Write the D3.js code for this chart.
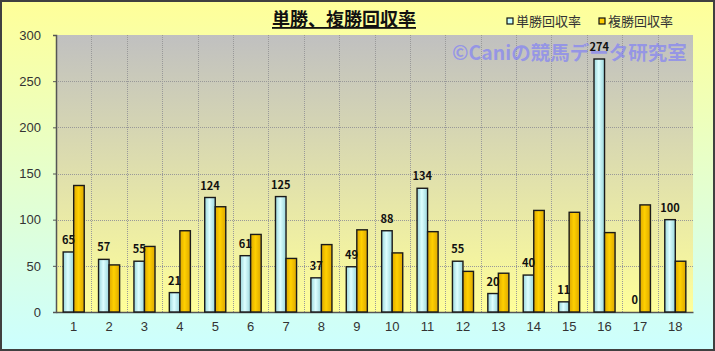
<!DOCTYPE html>
<html lang="ja">
<head>
<meta charset="UTF-8">
<title>単勝、複勝回収率</title>
<script src="https://d3js.org/d3.v7.min.js"></script>
<style>
  body { margin: 0; background: #fff; }
  svg text { font-family: "Noto Sans CJK JP", "Noto Sans", sans-serif; }
</style>
</head>
<body>
<div id="chart"></div>
<script>
// data
const categories = ["1","2","3","4","5","6","7","8","9","10","11","12","13","14","15","16","17","18"];
const tanshoValues = [65, 57, 55, 21, 124, 61, 125, 37, 49, 88, 134, 55, 20, 40, 11, 274, 0, 100];
const fukushoValues = [137, 51, 71, 88, 114, 84, 58, 73, 89, 64, 87, 44, 42, 110, 108, 86, 116, 55];
const seriesNames = ["単勝回収率", "複勝回収率"];
const yTicks = [0, 50, 100, 150, 200, 250, 300];

const width = 715, height = 351;
const plot = { left: 56, right: 693, top: 35, bottom: 312 };

const svg = d3.select("#chart").append("svg")
    .attr("width", width)
    .attr("height", height);

const defs = svg.append("defs");

// background gradients
const bg = defs.append("linearGradient").attr("id", "bg").attr("x1", 0).attr("y1", 0).attr("x2", 0).attr("y2", 1);
bg.append("stop").attr("offset", "0%").attr("stop-color", "#FFFF99");
bg.append("stop").attr("offset", "100%").attr("stop-color", "#CCFFFF");

const pg = defs.append("linearGradient").attr("id", "plotbg").attr("x1", 0).attr("y1", 0).attr("x2", 0).attr("y2", 1);
pg.append("stop").attr("offset", "0%").attr("stop-color", "#C0C0C0");
pg.append("stop").attr("offset", "100%").attr("stop-color", "#FFFF99");

// bar shading (horizontal)
function barGrad(id, edge, mid) {
  const g = defs.append("linearGradient").attr("id", id).attr("x1", 0).attr("y1", 0).attr("x2", 1).attr("y2", 0);
  g.append("stop").attr("offset", "0%").attr("stop-color", edge);
  g.append("stop").attr("offset", "45%").attr("stop-color", mid);
  g.append("stop").attr("offset", "100%").attr("stop-color", edge);
}
barGrad("blueBar", "#9AD6DC", "#DDFFFF");
barGrad("goldBar", "#DDA800", "#FFD000");

svg.append("rect")
    .attr("x", 1).attr("y", 1)
    .attr("width", width - 2).attr("height", height - 2)
    .attr("fill", "url(#bg)")
    .attr("stroke", "#404040")
    .attr("stroke-width", 2);

svg.append("rect")
    .attr("x", plot.left).attr("y", plot.top)
    .attr("width", plot.right - plot.left).attr("height", plot.bottom - plot.top)
    .attr("fill", "url(#plotbg)");

// scales
const x = d3.scaleBand().domain(categories).range([plot.left, plot.right]);
const inner = d3.scaleBand().domain([0, 1]).range([0, x.bandwidth()]).paddingInner(0).paddingOuter(0.68);
const y = d3.scaleLinear().domain([0, 300]).range([plot.bottom, plot.top]);

// gridlines
svg.append("g").selectAll("line")
    .data(yTicks.filter(d => d > 0 && d < 300))
    .enter().append("line")
    .attr("x1", plot.left).attr("x2", plot.right)
    .attr("y1", d => Math.round(y(d)) + 0.5).attr("y2", d => Math.round(y(d)) + 0.5)
    .attr("stroke", "#999").attr("stroke-width", 1)
    .attr("stroke-dasharray", "1,1");

svg.append("g").selectAll("line")
    .data(categories.slice(1))
    .enter().append("line")
    .attr("x1", d => Math.round(x(d)) + 0.5).attr("x2", d => Math.round(x(d)) + 0.5)
    .attr("y1", plot.top).attr("y2", plot.bottom)
    .attr("stroke", "#999").attr("stroke-width", 1)
    .attr("stroke-dasharray", "1,1");

// y axis
const yAxis = svg.append("g")
    .attr("transform", `translate(${plot.left},0)`)
    .call(d3.axisLeft(y).tickValues(yTicks).tickSize(3).tickPadding(12));
yAxis.select(".domain").attr("stroke", "#555").attr("stroke-width", 1.5);
yAxis.selectAll(".tick line").attr("stroke", "#555");
yAxis.selectAll(".tick text").attr("fill", "#333").attr("font-size", 13)
    .style("font-family", "'Liberation Sans', Arial, sans-serif");

// x axis
const xAxis = svg.append("g")
    .attr("transform", `translate(0,${plot.bottom})`)
    .call(d3.axisBottom(x).tickSize(0).tickPadding(10));
xAxis.select(".domain").attr("stroke", "#555").attr("stroke-width", 1.5);
xAxis.selectAll(".tick text").attr("fill", "#333").attr("font-size", 13)
    .style("font-family", "'Liberation Sans', Arial, sans-serif");

// bars
const rows = categories.map((c, i) => ({ cat: c, vals: [tanshoValues[i], fukushoValues[i]] }));
const groups = svg.append("g").selectAll("g")
    .data(rows)
    .enter().append("g")
    .attr("transform", d => `translate(${x(d.cat)},0)`);

groups.selectAll("rect")
    .data(d => d.vals.map((v, k) => ({ v, k })))
    .enter().append("rect")
    .filter(d => d.v > 0)
    .attr("x", d => inner(d.k))
    .attr("width", inner.bandwidth())
    .attr("y", d => y(d.v))
    .attr("height", d => y(0) - y(d.v))
    .attr("fill", d => d.k === 0 ? "url(#blueBar)" : "url(#goldBar)")
    .attr("stroke", "#1a1a1a")
    .attr("stroke-width", 1.4);

// data labels for tansho
groups.append("text")
    .attr("x", d => inner(0) + inner.bandwidth() / 2)
    .attr("y", d => y(d.vals[0]) - 8)
    .attr("text-anchor", "middle")
    .attr("font-size", 11)
    .attr("font-weight", "bold")
    .attr("fill", "#111")
    .text(d => d.vals[0]);

// title
svg.append("text")
    .attr("x", 344).attr("y", 26)
    .attr("text-anchor", "middle")
    .attr("font-size", 18)
    .attr("font-weight", "bold")
    .attr("fill", "#111")
    .attr("text-decoration", "underline")
    .text("単勝、複勝回収率");

// legend
const legendX = [507, 599];
const legend = svg.append("g").selectAll("g")
    .data(seriesNames)
    .enter().append("g")
    .attr("transform", (d, i) => `translate(${legendX[i]},17)`);
legend.append("rect")
    .attr("width", 6).attr("height", 6).attr("y", 1)
    .attr("fill", (d, i) => i === 0 ? "#C8FFFF" : "#FFCC00")
    .attr("stroke", "#111").attr("stroke-width", 1.2);
legend.append("text")
    .attr("x", 9).attr("y", 9)
    .attr("font-size", 13)
    .attr("fill", "#333")
    .text(d => d);

// watermark (drawn over the chart, as in the original)
svg.append("text")
    .attr("x", 452).attr("y", 60)
    .attr("font-size", 19.5)
    .attr("font-weight", "bold")
    .attr("fill", "#7777FF")
    .attr("fill-opacity", 0.6)
    .text("©Caniの競馬データ研究室");
</script>
</body>
</html>
